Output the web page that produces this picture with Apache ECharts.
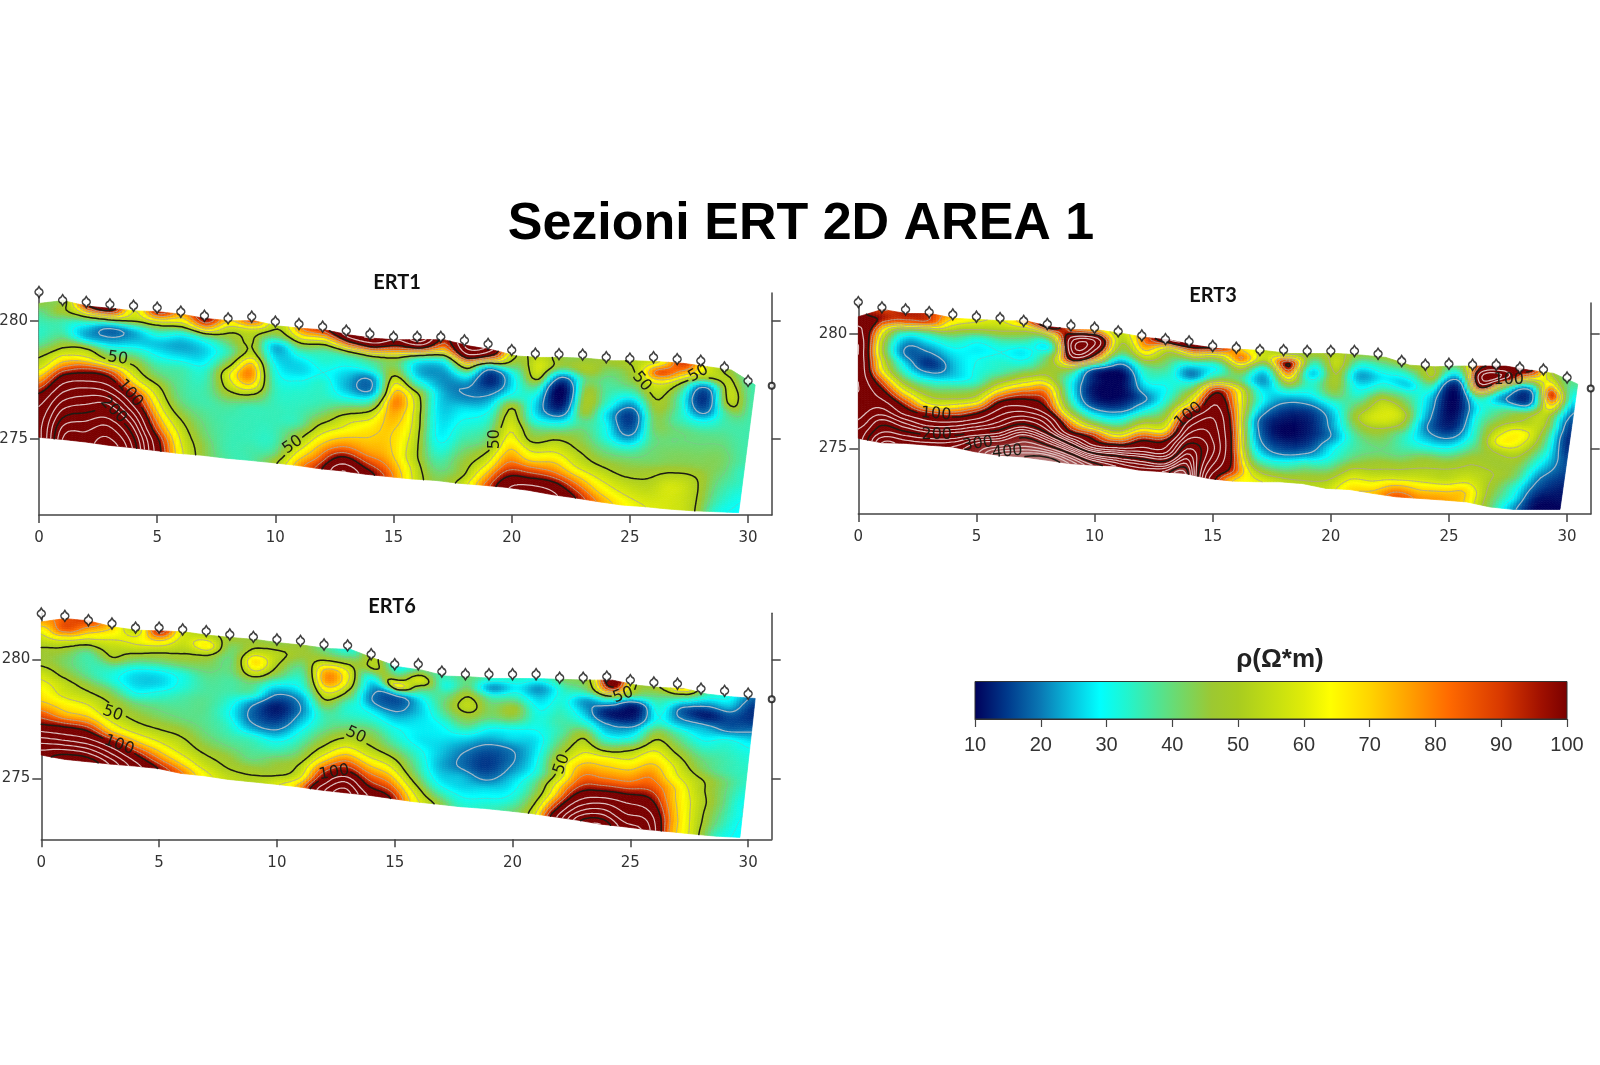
<!DOCTYPE html>
<html><head><meta charset="utf-8">
<style>html,body{margin:0;padding:0;background:#fff}#c{width:1600px;height:1065px}</style>
<script src="https://cdn.jsdelivr.net/npm/echarts@6/dist/echarts.min.js"></script>
</head><body><div id="c"></div>
<script>
// ---------- values ----------
const xTicks = [0,5,10,15,20,25,30];
const yTicks = [275,280];
const barTicks = [10,20,30,40,50,60,70,80,90,100];
const barStops = [[10,'#00005a'],[15,'#003a8c'],[20,'#0a78b4'],[25,'#08c4e0'],[29,'#00ffff'],[33,'#20f5d0'],[40,'#66dc78'],[46,'#9cc832'],[50,'#a8cc20'],[56,'#c8e010'],[60,'#e0ec08'],[64,'#ffff00'],[70,'#ffd400'],[76,'#ffa000'],[82,'#ff6a00'],[90,'#d83800'],[96,'#a01000'],[100,'#7a0000']];

const ert1Electrodes = [281.21,280.87,280.79,280.69,280.63,280.55,280.38,280.21,280.10,280.17,279.96,279.86,279.75,279.58,279.44,279.32,279.32,279.32,279.17,279.02,278.76,278.61,278.59,278.57,278.46,278.40,278.46,278.38,278.31,278.03,277.46];
const ert1Top = [280.73,280.85,280.62,280.52,280.42,280.38,280.27,280.09,280.0,280.0,279.78,279.68,279.61,279.40,279.26,279.19,279.21,279.19,278.94,278.77,278.51,278.45,278.45,278.41,278.31,278.31,278.27,278.20,278.06,277.92,277.29];
const ert1Bottom = [275.08,274.99,274.88,274.74,274.64,274.52,274.40,274.32,274.20,274.11,274.01,273.90,273.76,273.66,273.52,273.42,273.32,273.26,273.14,273.06,272.97,272.84,272.66,272.52,272.36,272.22,272.15,272.05,271.98,271.94,271.90];
const ert1Marker = 277.26;
const ert1Rho = [
[45,38,35,34,38,48,55,68,85,105,120,130,135,135],
[46,48,36,36,45,58,75,100,125,150,175,200,225,240],
[95,52,27,24,48,62,90,115,145,170,195,220,240,250],
[110,55,19,22,36,52,85,110,140,175,205,235,255,270],
[60,50,24,25,36,48,58,72,97,120,150,180,205,220],
[95,58,34,25,29,36,42,52,60,68,78,90,108,115],
[75,55,29,23,27,35,37,38,40,45,52,58,62,65],
[100,70,33,26,28,33,35,36,36,38,40,42,45,46],
[70,52,42,36,45,58,55,46,38,36,36,36,36,37],
[85,55,50,52,70,78,68,48,36,35,35,35,36,36],
[52,42,24,26,30,33,35,35,35,35,35,35,38,46],
[80,60,38,28,26,30,33,34,35,36,44,52,62,72],
[95,62,37,33,30,33,34,36,42,52,62,72,82,95],
[130,80,38,30,25,24,30,42,55,62,72,85,110,140],
[140,90,42,32,20,20,33,50,62,68,72,78,92,110],
[120,80,44,46,58,70,78,75,72,70,70,72,78,85],
[150,85,30,24,32,50,56,56,56,55,54,54,58,60],
[95,70,30,22,22,25,26,27,28,29,32,36,40,44],
[150,110,55,28,20,21,27,30,33,36,40,44,46,52],
[120,70,18,13,18,24,30,34,38,42,50,58,68,78],
[50,42,30,28,32,48,54,58,62,68,75,85,100,115],
[55,58,52,36,28,26,30,40,47,58,68,85,105,135],
[45,42,18,10,10,14,26,40,52,60,70,82,105,125],
[45,50,40,44,47,46,38,42,46,52,58,70,85,100],
[48,42,38,36,33,27,30,32,38,44,52,60,68,78],
[52,50,44,34,22,15,16,22,34,42,47,54,60,66],
[60,85,60,52,47,42,40,38,40,42,48,52,56,60],
[90,72,45,36,36,36,40,40,42,44,52,58,58,58],
[60,50,18,14,18,30,38,40,42,44,50,52,52,52],
[45,52,54,50,38,36,38,40,42,42,40,38,36,33],
[36,36,36,36,36,36,36,36,36,34,34,32,30,29]];
const ert1Labels = [[3.33,278.41,'50',-8],[10.73,274.76,'50',35],[3.85,276.94,'100',-50],[3.15,276.23,'200',-45],[19.27,275.0,'50',90],[25.5,277.43,'50',-50],[27.9,277.78,'50',30]];

const ert3Electrodes = [281.40,281.17,281.08,280.96,280.86,280.76,280.70,280.58,280.44,280.38,280.28,280.12,279.94,279.78,279.68,279.48,279.40,279.30,279.30,279.26,279.26,279.26,279.14,278.82,278.66,278.70,278.66,278.66,278.53,278.45,278.10];
const ert3Top = [280.76,281.08,280.90,280.90,280.69,280.64,280.58,280.58,280.32,280.20,280.18,280.03,279.85,279.74,279.52,279.37,279.33,279.27,279.15,279.15,279.15,279.08,278.98,278.64,278.57,278.60,278.60,278.60,278.42,278.28,277.81];
const ert3Bottom = [275.44,275.25,275.22,275.14,275.07,274.85,274.70,274.63,274.49,274.34,274.27,274.23,274.05,273.98,273.90,273.68,273.57,273.54,273.54,273.46,273.25,273.20,273.03,272.88,272.81,272.74,272.66,272.44,272.33,272.33,272.33];
const ert3Marker = 277.62;
const ert3Rho = [
[105,120,130,140,140,140,140,140,140,130,130,140,160,170],
[90,95,68,55,52,58,65,85,105,125,150,190,220,260],
[95,80,34,22,19,26,34,48,66,90,115,160,210,250],
[90,82,38,26,19,14,22,36,48,62,100,135,200,250],
[70,55,38,30,26,24,26,38,48,66,100,145,210,260],
[62,50,32,28,30,31,33,44,58,90,130,190,270,310],
[60,50,36,30,33,36,50,72,105,135,170,230,310,380],
[80,50,36,28,32,44,62,88,115,155,210,290,340,400],
[110,50,30,42,46,52,72,85,100,140,180,260,340,420],
[80,140,150,100,42,30,30,35,48,75,105,190,300,380],
[70,130,110,60,14,12,11,14,26,45,85,115,220,320],
[55,50,40,20,10,10,10,13,24,38,62,105,200,280],
[85,75,55,36,30,24,18,26,42,62,95,130,210,270],
[120,55,42,36,32,30,33,42,52,66,100,130,200,280],
[110,65,30,20,34,50,65,100,130,160,200,240,280,320],
[95,50,30,40,85,110,125,140,150,160,170,160,140,120],
[70,80,50,40,62,68,72,76,80,85,88,92,90,70],
[55,52,28,22,28,30,24,18,19,22,28,38,52,62],
[48,100,80,50,30,20,14,11,10,13,18,30,42,55],
[48,36,26,33,30,21,14,12,12,14,20,34,44,52],
[52,55,50,48,42,30,24,22,20,26,30,38,48,55],
[45,32,23,28,34,42,48,42,36,36,40,50,60,68],
[46,35,28,35,50,57,58,48,42,40,46,52,62,72],
[48,34,26,36,44,52,46,36,36,40,48,55,72,85],
[50,50,35,26,24,22,20,24,32,44,50,56,68,78],
[42,25,12,10,10,11,13,20,30,42,50,54,68,76],
[95,135,100,38,28,30,32,34,40,48,52,58,68,68],
[100,130,45,22,36,44,55,62,50,47,50,48,45,42],
[105,55,16,15,42,52,64,60,50,44,40,32,28,22],
[48,62,90,70,52,48,42,38,32,26,20,16,12,10],
[38,32,26,20,16,14,13,14,16,16,14,12,11,10]];
const ert3Labels = [[3.29,276.5,'100',-5],[3.32,275.58,'200',0],[5.06,275.19,'300',8],[6.31,274.85,'400',5],[13.98,276.46,'100',40],[27.53,278.02,'100',0]];

const ert6Electrodes = [281.93,281.83,281.65,281.51,281.34,281.34,281.26,281.19,281.05,280.95,280.84,280.78,280.63,280.59,280.22,279.80,279.80,279.49,279.38,279.38,279.38,279.38,279.23,279.23,279.28,279.13,279.03,278.98,278.77,278.68,278.56];
const ert6Top = [281.58,281.72,281.62,281.37,281.23,281.20,281.16,281.02,280.92,280.84,280.70,280.60,280.46,280.42,280.04,279.69,279.55,279.30,279.27,279.20,279.20,279.19,279.16,279.13,279.13,278.92,278.82,278.78,278.54,278.43,278.36];
const ert6Bottom = [275.98,275.80,275.70,275.60,275.52,275.42,275.21,275.11,274.96,274.86,274.76,274.65,274.51,274.40,274.30,274.16,274.02,273.92,273.81,273.74,273.64,273.53,273.39,273.25,273.08,272.97,272.85,272.76,272.66,272.57,272.52];
const ert6Marker = 278.33;
const ert6Rho = [
[75,62,54,47,48,56,62,66,72,85,100,130,165,190],
[85,85,60,46,42,46,54,58,66,75,100,130,175,215],
[88,72,54,38,36,38,46,54,62,72,95,125,170,215],
[70,62,54,49,35,32,40,48,52,60,72,105,140,175],
[55,62,53,40,28,26,30,40,46,52,62,78,105,130],
[95,68,51,40,28,26,32,38,42,48,56,66,80,100],
[58,56,50,42,32,32,36,38,40,46,52,58,68,82],
[52,66,48,42,38,37,38,38,38,40,44,50,56,64],
[48,42,40,40,37,36,32,30,33,36,40,46,50,55],
[45,52,68,58,40,34,20,18,22,33,37,40,48,52],
[44,52,50,42,28,18,12,14,20,29,36,44,48,58],
[46,46,40,35,30,22,20,24,30,36,42,50,56,72],
[38,48,72,76,60,46,36,36,42,50,62,80,100,130],
[32,44,58,58,46,34,34,40,50,62,78,100,140,170],
[52,50,30,22,20,28,34,42,48,56,68,82,98,120],
[30,42,62,18,18,24,30,34,40,50,60,72,85,100],
[40,58,40,27,25,27,28,28,32,36,40,48,58,65],
[36,32,38,40,36,30,28,26,25,24,26,30,38,48],
[40,40,50,54,46,38,28,22,19,19,24,26,30,34],
[34,22,36,42,40,30,24,18,15,15,19,26,30,34],
[34,28,36,47,42,30,26,20,19,21,25,28,32,38],
[32,22,26,30,32,30,27,27,28,30,36,40,46,52],
[42,34,32,34,36,36,40,46,52,52,62,70,88,110],
[48,40,22,24,32,46,54,62,72,80,92,115,150,190],
[120,80,26,12,20,28,42,62,72,82,100,135,175,220],
[50,40,12,12,22,32,50,62,72,82,100,125,145,170],
[50,38,32,30,42,52,62,70,78,85,98,115,135,150],
[70,34,18,22,34,42,50,58,62,70,72,75,78,78],
[36,22,12,22,28,34,40,44,52,54,56,56,56,56],
[30,24,16,18,30,34,36,37,42,42,42,40,38,34],
[18,14,14,19,27,31,33,34,34,32,30,30,29,29]];
const ert6Labels = [[3.03,277.73,'50',-20],[3.3,276.4,'100',-20],[13.35,276.82,'50',-25],[12.43,275.25,'100',10],[22.09,275.6,'50',70],[24.7,278.5,'50',20]];

const contourLevels = [20,30,40,50,60,70,80,90,100,120,140,160,180,200,220,240,260,280,300,320,340,360,380,400];
const sectionNames = ['ERT1','ERT3','ERT6'];

// ---------- sections (layout only) ----------
const sections = [
 {name:sectionNames[0],rho:ert1Rho,top:ert1Top,bot:ert1Bottom,el:ert1Electrodes,mk:ert1Marker,labels:ert1Labels,black:[50,100,200,300,400],
  grid:{left:39,top:293,width:732.7,height:222,outerBoundsMode:'none'},yr:[271.8,281.17],edge:[30.3,29.6],tx:397,ty:283},
 {name:sectionNames[1],rho:ert3Rho,top:ert3Top,bot:ert3Bottom,el:ert3Electrodes,mk:ert3Marker,labels:ert3Labels,black:[100,200,300,400],
  grid:{left:858.3,top:303,width:732.4,height:211,outerBoundsMode:'none'},yr:[272.13,281.36],edge:[30.45,29.7],tx:1213,ty:296},
 {name:sectionNames[2],rho:ert6Rho,top:ert6Top,bot:ert6Bottom,el:ert6Electrodes,mk:ert6Marker,labels:ert6Labels,black:[50,100,200,300,400],
  grid:{left:41.3,top:613.3,width:730.4,height:226,outerBoundsMode:'none'},yr:[272.44,281.94],edge:[30.3,29.65],tx:392,ty:607}
];
const NC=30,NR=13,SX=8,SY=5;

function hex(c){return [parseInt(c.slice(1,3),16),parseInt(c.slice(3,5),16),parseInt(c.slice(5,7),16)];}
const stopsRGB = barStops.map(s=>[s[0],hex(s[1])]);
function colorOf(v){
  if(v>=100){
    const t=Math.min(1,Math.max(0,(v-270)/180));
    const a=[122,0,0],b=[196,150,150];
    return 'rgb('+a.map((q,i)=>Math.round(q+(b[i]-q)*t)).join(',')+')';
  }
  if(v<=10) return barStops[0][1];
  for(let i=1;i<stopsRGB.length;i++){
    if(v<=stopsRGB[i][0]){
      const p=stopsRGB[i-1],q=stopsRGB[i],t=(v-p[0])/(q[0]-p[0]);
      return 'rgb('+p[1].map((a,k)=>Math.round(a+(q[1][k]-a)*t)).join(',')+')';
    }
  }
  return barStops[barStops.length-1][1];
}
function cr(a,b,c,d,t){return .5*(2*b+(-a+c)*t+(2*a-5*b+4*c-d)*t*t+(-a+3*b-3*c+d)*t*t*t);}
function shade(sec){ // smooth shading of the read cells, on-screen only
  if(sec.f) return sec.f;
  const L=sec.rho.map(c=>c.map(Math.log)),f=[];
  const cl=(i,n)=>Math.max(0,Math.min(n,i));
  for(let i=0;i<=NC*SX;i++){
    const u=i/SX,j=Math.min(NC-1,Math.floor(u)),tu=u-j,col=[];
    for(let k=0;k<=NR*SY;k++){
      const v=k/SY,r=Math.min(NR-1,Math.floor(v)),tv=v-r,w=[];
      for(let q=-1;q<=2;q++){
        const C=L[cl(j+q,NC)];
        w.push(cr(C[cl(r-1,NR)],C[r],C[r+1],C[cl(r+2,NR)],tv));
      }
      col.push(Math.exp(cr(w[0],w[1],w[2],w[3],tu)));
    }
    f.push(col);
  }
  return sec.f=f;
}
function pixels(sec,api){
  if(sec.px) return sec.px;
  const px=[];
  for(let i=0;i<=NC*SX;i++){
    const u=i/SX,j=Math.min(NC-1,Math.floor(u)),tu=u-j,col=[];
    const tp=sec.top[j]+(sec.top[j+1]-sec.top[j])*tu, bt=sec.bot[j]+(sec.bot[j+1]-sec.bot[j])*tu;
    for(let k=0;k<=NR*SY;k++){
      const t=k/(NR*SY),xe=sec.edge[0]+(sec.edge[1]-sec.edge[0])*t;
      col.push(api.coord([u/NC*xe,tp+(bt-tp)*t]));
    }
    px.push(col);
  }
  return sec.px=px;
}
function cellRender(sec){
  return function(params,api){
    const px=pixels(sec,api),f=shade(sec),j=api.value(3),r=api.value(4),ch=[];
    for(let a=0;a<SX;a++)for(let b=0;b<SY;b++){
      const i=j*SX+a,k=r*SY+b;
      const c=colorOf((f[i][k]+f[i+1][k]+f[i][k+1]+f[i+1][k+1])/4);
      ch.push({type:'polygon',shape:{points:[px[i][k],px[i+1][k],px[i+1][k+1],px[i][k+1]]},style:{fill:c,stroke:c,lineWidth:.7}});
    }
    return {type:'group',children:ch};
  };
}
function contourRender(sec){
  return function(params,api){
    const px=pixels(sec,api),f=shade(sec),lv=api.value(2);
    const isBlack=sec.black.indexOf(lv)>=0;
    const holes=isBlack?sec.labels.map(l=>{const p=api.coord([l[0],l[1]]);return [p[0],p[1],l[2].length>2?18:13];}):[];
    let d='';
    const seg=(A,B)=>{
      const mx=(A[0]+B[0])/2,my=(A[1]+B[1])/2;
      for(const h of holes){if((mx-h[0])*(mx-h[0])+(my-h[1])*(my-h[1])<h[2]*h[2])return;}
      d+='M'+A[0].toFixed(1)+' '+A[1].toFixed(1)+'L'+B[0].toFixed(1)+' '+B[1].toFixed(1);
    };
    const mix=(P,Q,a,b)=>{const t=(lv-a)/(b-a);return [P[0]+(Q[0]-P[0])*t,P[1]+(Q[1]-P[1])*t];};
    for(let i=0;i<NC*SX;i++)for(let k=0;k<NR*SY;k++){
      const a=f[i][k],b=f[i+1][k],c=f[i+1][k+1],e=f[i][k+1];
      const n=(a>lv?1:0)|(b>lv?2:0)|(c>lv?4:0)|(e>lv?8:0);
      if(n===0||n===15)continue;
      const T=()=>mix(px[i][k],px[i+1][k],a,b),R=()=>mix(px[i+1][k],px[i+1][k+1],b,c),
            B=()=>mix(px[i+1][k+1],px[i][k+1],c,e),Lf=()=>mix(px[i][k+1],px[i][k],e,a);
      switch(n){
        case 1:case 14:seg(Lf(),T());break;
        case 2:case 13:seg(T(),R());break;
        case 4:case 11:seg(R(),B());break;
        case 8:case 7:seg(B(),Lf());break;
        case 3:case 12:seg(Lf(),R());break;
        case 6:case 9:seg(T(),B());break;
        case 5:seg(Lf(),T());seg(R(),B());break;
        case 10:seg(T(),R());seg(B(),Lf());break;
      }
    }
    if(!d) return null;
    let stroke,w;
    if(isBlack){stroke='#1c1c14';w=1.5;}
    else if(lv===20){stroke='rgba(170,185,200,.95)';w=1.2;}
    else if(lv<50){stroke='rgba(150,170,160,.35)';w=.8;}
    else if(lv<100){stroke='rgba(175,165,150,.7)';w=1;}
    else {stroke='rgba(226,200,200,.95)';w=1.2;}
    return {type:'path',shape:{pathData:d},style:{fill:null,stroke:stroke,lineWidth:w,lineCap:'round'}};
  };
}
function labelRender(sec){
  return function(params,api){
    const l=sec.labels[params.dataIndex],p=api.coord([l[0],l[1]]);
    return {type:'text',x:p[0],y:p[1],rotation:l[3]*Math.PI/180,
      style:{text:l[2],fill:'#1c1c14',font:'16px "DejaVu Sans"',textAlign:'center',textVerticalAlign:'middle'}};
  };
}
const axisLine={show:true,onZero:false,lineStyle:{color:'#444',width:1.5}};
const grid=[],xAxis=[],yAxis=[],series=[];
const electrodeSymbol='path://M5 0 L6 2.2 A3.2 3.2 0 0 1 6 7.8 L5 10 L4 7.8 A3.2 3.2 0 0 1 4 2.2 Z';
const titles=[{text:'Sezioni ERT 2D AREA 1',left:801,top:225,padding:0,textAlign:'center',textVerticalAlign:'middle',
  textStyle:{fontFamily:'"Liberation Sans"',fontWeight:'bold',fontSize:52,color:'#000'}}];
sections.forEach((s,i)=>{
  grid.push(s.grid);
  titles.push({text:s.name,left:s.tx,top:s.ty,padding:0,textAlign:'center',textVerticalAlign:'middle',
    textStyle:{fontFamily:'Lato',fontWeight:'bold',fontSize:20,color:'#111'}});
  xAxis.push({type:'value',gridIndex:i,min:0,max:31,axisLine,splitLine:{show:false},
    axisTick:{customValues:xTicks,length:8,lineStyle:{color:'#444',width:1.5}},
    axisLabel:{customValues:xTicks,margin:16,fontFamily:'"DejaVu Sans"',fontSize:15,color:'#333'}});
  yAxis.push({type:'value',gridIndex:i,min:s.yr[0],max:s.yr[1],axisLine,splitLine:{show:false},
    axisTick:{customValues:yTicks,length:9,lineStyle:{color:'#444',width:1.5}},
    axisLabel:{customValues:yTicks,margin:11,fontFamily:'"DejaVu Sans"',fontSize:15,color:'#333'}});
  yAxis.push({type:'value',gridIndex:i,position:'right',min:s.yr[0],max:s.yr[1],axisLine,splitLine:{show:false},
    axisTick:{customValues:yTicks,length:9,lineStyle:{color:'#444',width:1.5}},axisLabel:{show:false}});
  const cells=[];
  for(let j=0;j<NC;j++)for(let r=0;r<NR;r++){
    cells.push([j,s.top[j]+(s.bot[j]-s.top[j])*r/NR,s.rho[j][r],j,r]);
  }
  const ax={xAxisIndex:i,yAxisIndex:i*2,coordinateSystem:'cartesian2d',clip:false,silent:true};
  series.push(Object.assign({type:'custom',z:2,renderItem:cellRender(s),data:cells},ax));
  series.push(Object.assign({type:'custom',z:3,renderItem:contourRender(s),data:contourLevels.map(l=>[0,s.yr[0],l])},ax));
  series.push(Object.assign({type:'custom',z:4,renderItem:labelRender(s),data:s.labels.map(l=>[l[0],l[1]])},ax));
  series.push({type:'scatter',z:5,xAxisIndex:i,yAxisIndex:i*2,clip:false,silent:true,symbol:electrodeSymbol,symbolSize:[8,11],
    itemStyle:{color:'#fff',borderColor:'#111',borderWidth:1.6},data:s.el.map((y,j)=>[j,y])});
  series.push({type:'scatter',z:5,xAxisIndex:i,yAxisIndex:i*2,clip:false,silent:true,symbol:'circle',symbolSize:6,
    itemStyle:{color:'#fff',borderColor:'#111',borderWidth:2},data:[[31,s.mk]]});
});
// colour bar
grid.push({left:975,top:681.5,width:592,height:37.5,outerBoundsMode:'none'});
titles.push({text:'ρ(Ω*m)',left:1280,top:660,padding:0,textAlign:'center',textVerticalAlign:'middle',
  textStyle:{fontFamily:'"Liberation Sans"',fontWeight:'bold',fontSize:26,color:'#222'}});
xAxis.push({type:'value',gridIndex:3,min:10,max:100,interval:10,splitLine:{show:false},
  axisLine:{show:true,onZero:false,lineStyle:{color:'#333',width:1}},
  axisTick:{length:8,lineStyle:{color:'#444',width:1.2}},
  axisLabel:{margin:16,fontFamily:'"Liberation Sans"',fontSize:20,color:'#333',
    customValues:barTicks,showMinLabel:true,showMaxLabel:true}});
yAxis.push({type:'value',gridIndex:3,min:0,max:1,show:false});
series.push({type:'custom',xAxisIndex:3,yAxisIndex:6,coordinateSystem:'cartesian2d',silent:true,z:2,data:[[10,100]],
  renderItem:function(p,api){
    const a=api.coord([api.value(0),1]),b=api.coord([api.value(1),0]);
    return {type:'rect',shape:{x:a[0],y:a[1],width:b[0]-a[0],height:b[1]-a[1]},
      style:{stroke:'#333',lineWidth:1,fill:new echarts.graphic.LinearGradient(0,0,1,0,
        barStops.map(s=>({offset:(s[0]-10)/90,color:s[1]})))}};
  }});
const chart=echarts.init(document.getElementById('c'),null,{renderer:'canvas'});
chart.setOption({animation:false,backgroundColor:'#fff',title:titles,grid,xAxis,yAxis,series});
</script></body></html>
